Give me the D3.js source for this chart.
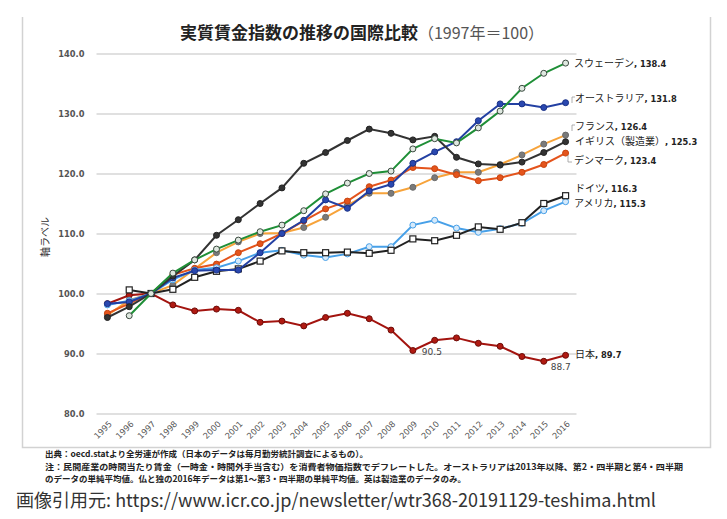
<!DOCTYPE html>
<html><head><meta charset="utf-8">
<script src="https://cdn.jsdelivr.net/npm/d3@7/dist/d3.min.js"></script>
<style>body{margin:0;background:#fff}svg{display:block}</style>
</head><body>
<svg id="c" width="727" height="519"></svg>
<script>
const years = [1995,1996,1997,1998,1999,2000,2001,2002,2003,2004,2005,2006,2007,2008,2009,2010,2011,2012,2013,2014,2015,2016];
const yTicks = [80,90,100,110,120,130,140];
const japan     = [98.3,99.7,100,98.1,97.1,97.4,97.2,95.2,95.4,94.6,96.0,96.7,95.8,93.9,90.5,92.2,92.6,91.7,91.2,89.5,88.7,89.7];
const sweden    = [null,96.3,100,103.4,105.6,107.4,108.9,110.3,111.4,113.8,116.6,118.4,120.0,120.4,124.1,125.8,125.1,127.6,130.4,134.2,136.7,138.4];
const australia = [98.3,98.6,100,102.6,103.8,103.9,103.9,106.8,110.0,112.2,115.6,114.2,117.1,118.2,121.7,123.6,125.3,128.8,131.6,131.6,131.0,131.8];
const france    = [96.4,98.9,100,101.4,104.1,106.8,108.6,110.0,110.1,111.0,112.7,114.7,116.7,116.7,117.7,119.3,120.2,120.2,121.5,123.1,124.9,126.4];
const uk        = [96.0,97.8,100,102.9,105.6,109.7,112.3,115.0,117.6,121.7,123.5,125.5,127.4,126.7,125.6,126.2,122.7,121.6,121.4,121.9,123.5,125.3];
const denmark   = [96.7,98.3,100,103.1,104.2,104.9,106.8,108.3,110.0,112.1,114.1,115.4,117.8,118.9,121.0,120.8,119.8,118.8,119.3,120.2,121.5,123.4];
const germany   = [null,100.6,100,100.7,102.7,103.7,104.1,105.4,107.1,106.8,106.8,106.9,106.7,107.2,109.1,108.8,109.7,111.1,110.7,111.8,115.0,116.3];
const usa       = [98.1,98.8,100,102.3,103.9,104.3,105.4,106.8,107.2,106.4,106.0,106.6,107.8,107.8,111.4,112.2,110.9,110.2,110.8,111.7,113.8,115.3];

const series = [
  {name:"日本", vals:japan, line:"#a3140f", mfill:"#b01a12", mstroke:"#6e0c08", shape:"circle", label:"日本", lx:575, ly:358},
  {name:"フランス", vals:france, line:"#f7a33a", mfill:"#7a7a7a", mstroke:"#6a6a6a", shape:"circle", label:"フランス", lx:575, ly:130, leader:true},
  {name:"デンマーク", vals:denmark, line:"#e4541c", mfill:"#e4541c", mstroke:"#c8440f", shape:"circle", label:"デンマーク", lx:574, ly:164, leader2:true},
  {name:"アメリカ", vals:usa, line:"#47a0e8", mfill:"#d6eafb", mstroke:"#47a0e8", shape:"circle", label:"アメリカ", lx:574, ly:207},
  {name:"ドイツ", vals:germany, line:"#222", mfill:"#fff", mstroke:"#222", shape:"square", label:"ドイツ", lx:575, ly:192},
  {name:"オーストラリア", vals:australia, line:"#2340a3", mfill:"#2a48b0", mstroke:"#1a3186", shape:"circle", label:"オーストラリア", lx:575, ly:102, leader:true},
  {name:"イギリス", vals:uk, line:"#333", mfill:"#333", mstroke:"#222", shape:"circle", label:"イギリス（製造業）", lx:575, ly:145},
  {name:"スウェーデン", vals:sweden, line:"#1f8f37", mfill:"#dfe8e0", mstroke:"#3b4a40", shape:"circle", label:"スウェーデン", lx:574, ly:67}
];

const svg = d3.select("#c");
const x = d3.scaleBand().domain(years).range([96.5, 576.5]);
const y = d3.scaleLinear().domain([80,140]).range([413.5, 53.5]);
const cx = d => x(d) + x.bandwidth()/2;

// frame
svg.append("path").attr("d","M22.5,17 V447.5 H710.5 V17")
  .attr("stroke","#d2d2d2").attr("stroke-width",1.5).attr("fill","none");

// title
const t = svg.append("text").attr("x",362).attr("y",39).attr("text-anchor","middle")
  .attr("font-family","'Noto Sans CJK JP'");
t.append("tspan").attr("font-size",17).attr("font-weight","bold").attr("fill","#222").text("実質賃金指数の推移の国際比較");
t.append("tspan").attr("font-size",16).attr("fill","#555").text("（1997年＝100）");

// grid + y labels
const yAxis = d3.axisLeft(y).tickValues(yTicks).tickSize(-480).tickFormat(d3.format(".1f")).tickPadding(12);
const ga = svg.append("g").attr("transform","translate(96.5,0)").call(yAxis);
ga.select(".domain").remove();
ga.selectAll(".tick line").attr("stroke","#d6d6d6").attr("stroke-width",1.6);
ga.selectAll(".tick text").attr("font-family","'DejaVu Sans'").attr("font-weight","bold")
  .attr("font-size",8.3).attr("fill","#555");

// x labels
const xAxis = d3.axisBottom(x).tickSize(0).tickFormat(d => d);
const gx = svg.append("g").attr("transform","translate(0,413.5)").call(xAxis);
gx.select(".domain").remove();
gx.selectAll(".tick text").attr("font-family","'DejaVu Sans'").attr("font-size",8.3).attr("fill","#555")
  .attr("text-anchor","end").attr("dy",0).attr("y",0)
  .attr("transform","translate(5,11) rotate(-45)");

// y axis title
svg.append("text").attr("transform","translate(49,237) rotate(-90)").attr("text-anchor","middle")
  .attr("font-family","'Noto Sans CJK JP'").attr("font-size",10).attr("fill","#333").text("軸ラベル");

// lines
const line = d3.line().defined(d => d.v != null).x(d => cx(d.yr)).y(d => y(d.v));
series.forEach(s => {
  const pts = years.map((yr,i) => ({yr, v:s.vals[i]}));
  const g = svg.append("g");
  g.append("path").datum(pts).attr("d",line).attr("fill","none").attr("stroke",s.line).attr("stroke-width",2);
  const ok = pts.filter(d => d.v != null);
  if (s.shape === "square") {
    g.selectAll("rect").data(ok).join("rect")
      .attr("x",d => cx(d.yr)-3).attr("y",d => y(d.v)-3).attr("width",6).attr("height",6)
      .attr("fill",s.mfill).attr("stroke",s.mstroke).attr("stroke-width",1.2);
  } else {
    g.selectAll("circle").data(ok).join("circle")
      .attr("cx",d => cx(d.yr)).attr("cy",d => y(d.v)).attr("r",3)
      .attr("fill",s.mfill).attr("stroke",s.mstroke).attr("stroke-width",1);
  }
});

// labels
series.forEach(s => {
  const last = s.vals[s.vals.length-1];
  const tx = svg.append("text").attr("x",s.lx).attr("y",s.ly).attr("fill","#222");
  tx.append("tspan").attr("font-family","'Noto Sans CJK JP'").attr("font-size",10).text(s.label);
  tx.append("tspan").attr("font-family","'DejaVu Sans'").attr("font-weight","bold").attr("font-size",8.3)
    .text(", " + last.toFixed(1));
  if (s.leader) {
    svg.append("path").attr("d",`M${s.lx-3},${s.ly+1} V${s.ly-5} H${s.lx}`).attr("fill","none")
      .attr("stroke","#999").attr("stroke-width",0.8);
  }
  if (s.leader2) {
    svg.append("path").attr("d",`M${s.lx-6},${s.ly-9} V${s.ly-2} H${s.lx-2}`).attr("fill","none")
      .attr("stroke","#999").attr("stroke-width",0.8);
  }
});

// data callouts for Japan
const iMin = years.indexOf(2009), iMin2 = years.indexOf(2015);
svg.append("text").attr("x",cx(2009)+9).attr("y",y(japan[iMin])+4).attr("font-family","'DejaVu Sans'")
  .attr("font-size",9).attr("fill","#444").text(japan[iMin].toFixed(1));
svg.append("text").attr("x",cx(2015)+7).attr("y",y(japan[iMin2])+9).attr("font-family","'DejaVu Sans'")
  .attr("font-size",9).attr("fill","#444").text(japan[iMin2].toFixed(1));

// footnotes
const fn = svg.append("g").attr("font-family","'Noto Sans CJK JP'").attr("font-weight","bold").attr("font-size",8.5).attr("fill","#222");
fn.append("text").attr("x",45).attr("y",457).text("出典：oecd.statより全労連が作成（日本のデータは毎月勤労統計調査によるもの）。");
fn.append("text").attr("x",45).attr("y",469.5).attr("textLength",638).attr("lengthAdjust","spacingAndGlyphs")
  .text("注：民間産業の時間当たり賃金（一時金・時間外手当含む）を消費者物価指数でデフレートした。オーストラリアは2013年以降、第2・四半期と第4・四半期");
fn.append("text").attr("x",45).attr("y",482).text("のデータの単純平均値。仏と独の2016年データは第1～第3・四半期の単純平均値。英は製造業のデータのみ。");

svg.append("text").attr("x",16).attr("y",507).attr("font-family","'Noto Sans CJK JP'").attr("font-size",18.5)
  .attr("fill","#333").attr("textLength",640).attr("lengthAdjust","spacingAndGlyphs")
  .text("画像引用元: https://www.icr.co.jp/newsletter/wtr368-20191129-teshima.html");
</script>
</body></html>
